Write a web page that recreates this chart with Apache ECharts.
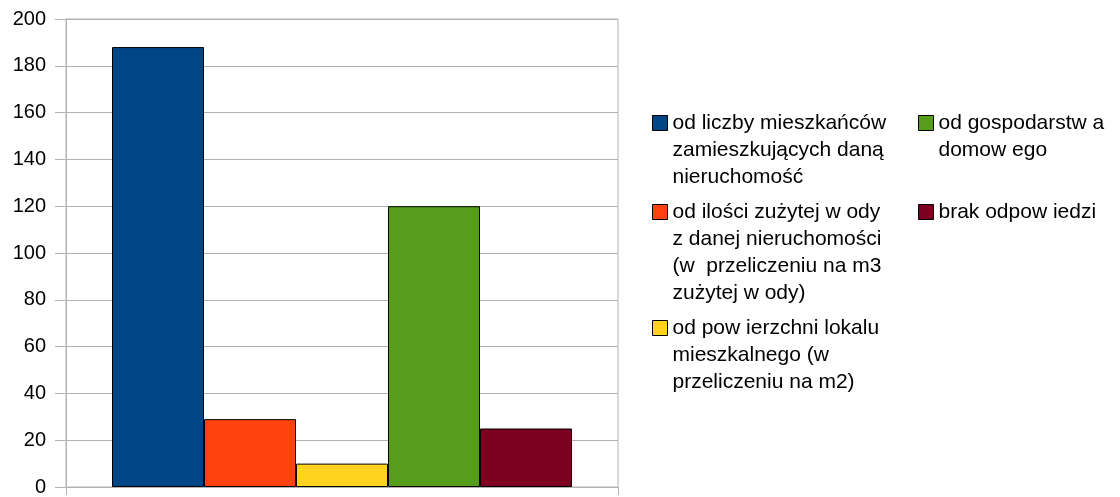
<!DOCTYPE html>
<html>
<head>
<meta charset="utf-8">
<script src="https://cdn.jsdelivr.net/npm/echarts@6/dist/echarts.min.js"></script>
<style>
html, body { margin: 0; background: #fff; }
#chart { width: 1120px; height: 497px; }
</style>
</head>
<body>
<div id="chart"></div>
<script>
const categories = ['']
// legend entries as they appear in the picture, already wrapped
const legendLines = [
    ['od liczby mieszkańców', 'zamieszkujących daną', 'nieruchomość'],
    ['od ilości zużytej w ody', 'z danej nieruchomości', '(w  przeliczeniu na m3', 'zużytej w ody)'],
    ['od pow ierzchni lokalu', 'mieszkalnego (w', 'przeliczeniu na m2)'],
    ['od gospodarstw a', 'domow ego'],
    ['brak odpow iedzi']
]
const seriesNames = legendLines.map(l => l.join(' '))
const seriesValues = [188, 29, 10, 120, 25]
const seriesColors = ['#004586', '#ff420e', '#ffd320', '#579d1c', '#7e0021']
const yMin = 0
const yMax = 200
const yStep = 20

const font = '"Liberation Sans", Arial, sans-serif'
const gridColor = '#b3b3b3'
const lineH = 27
const iconSize = 15
// where each legend entry sits: left edge of icon, centre of icon
const legendSlots = [
    { left: 652, y: 123 },
    { left: 652, y: 212 },
    { left: 652, y: 328 },
    { left: 918, y: 123 },
    { left: 918, y: 212 }
]

const legends = legendLines.map((lines, i) => {
    const n = lines.length
    const blockH = (2 * n - 1) * lineH
    // empty lines on top so the first real line is level with the icon
    const text = '\n'.repeat(n - 1) + lines.join('\n')
    return {
        data: [seriesNames[i]],
        orient: 'vertical',
        left: legendSlots[i].left,
        top: legendSlots[i].y - Math.max(blockH, iconSize) / 2,
        padding: 0,
        icon: 'rect',
        itemWidth: iconSize,
        itemHeight: iconSize,
        selectedMode: false,
        itemStyle: { borderColor: '#000', borderWidth: 1 },
        formatter: () => text,
        textStyle: {
            fontFamily: font,
            fontSize: 21,
            color: '#000',
            lineHeight: lineH
        }
    }
})

const chart = echarts.init(document.getElementById('chart'))
chart.setOption({
    animation: false,
    legend: legends,
    grid: {
        left: 66,
        right: 502,
        top: 19,
        bottom: 8,
        show: true,
        borderColor: gridColor,
        borderWidth: 1
    },
    xAxis: {
        type: 'category',
        data: categories,
        axisLine: { show: true, lineStyle: { color: gridColor } },
        axisTick: { show: true, length: 8, lineStyle: { color: gridColor } },
        axisLabel: { show: false }
    },
    yAxis: {
        type: 'value',
        min: yMin,
        max: yMax,
        interval: yStep,
        axisLine: { show: true, lineStyle: { color: gridColor } },
        axisTick: { show: true, length: 11, lineStyle: { color: gridColor } },
        splitLine: { show: true, lineStyle: { color: gridColor, width: 1 } },
        axisLabel: {
            fontFamily: font,
            fontSize: 20,
            color: '#000',
            margin: 20
        }
    },
    series: seriesNames.map((name, i) => ({
        name: name,
        type: 'bar',
        data: [seriesValues[i]],
        barWidth: 92,
        barGap: '0%',
        itemStyle: {
            color: seriesColors[i],
            borderColor: '#000',
            borderWidth: 1
        }
    }))
})
</script>
</body>
</html>
